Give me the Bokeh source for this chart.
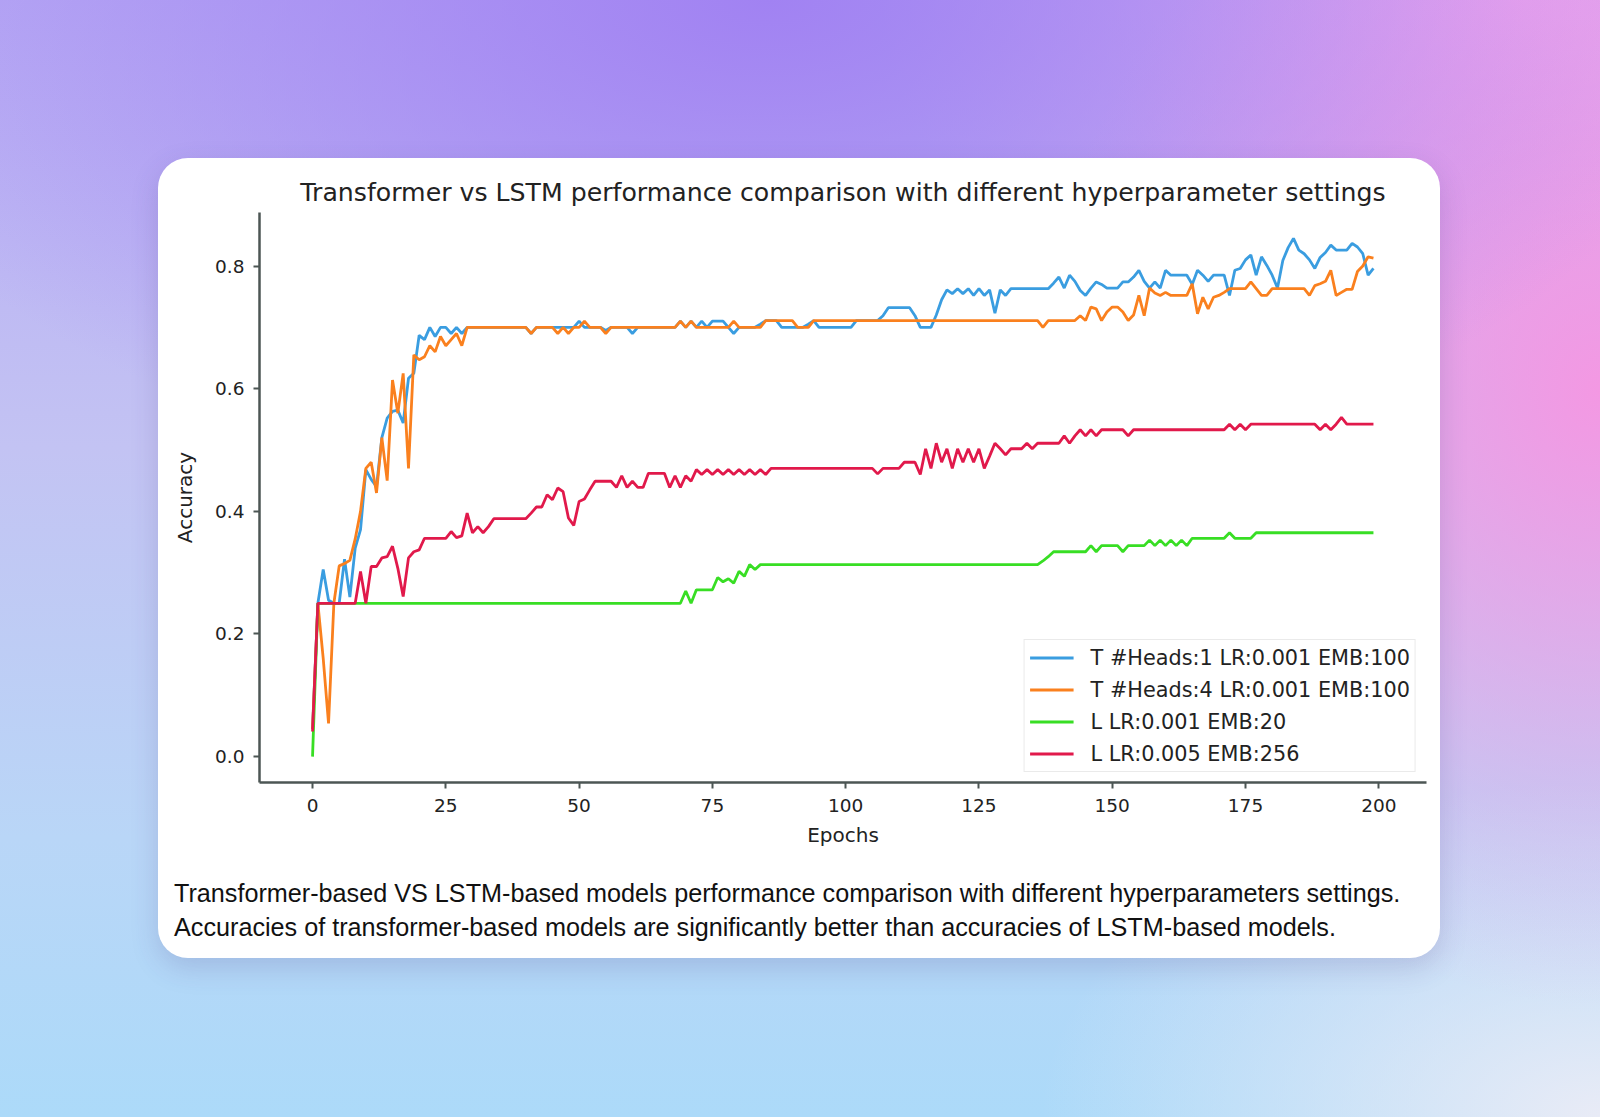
from bokeh.plotting import figure
from bokeh.models import (Range1d, Legend, LegendItem, FixedTicker, Div, Spacer,
                          Column, Row, PrintfTickFormatter, ColumnDataSource)
from bokeh.embed import file_html
from bokeh.resources import INLINE

TITLE = "Transformer vs LSTM performance comparison with different hyperparameter settings"
X_LABEL = "Epochs"
Y_LABEL = "Accuracy"
CAPTION_1 = "Transformer-based VS LSTM-based models performance comparison with different hyperparameters settings."
CAPTION_2 = "Accuracies of transformer-based models are significantly better than accuracies of LSTM-based models."

series_names = [
    "T #Heads:1 LR:0.001 EMB:100",
    "T #Heads:4 LR:0.001 EMB:100",
    "L LR:0.001 EMB:20",
    "L LR:0.005 EMB:256",
]

x_ticks = [0, 25, 50, 75, 100, 125, 150, 175, 200]
y_ticks = [0.0, 0.2, 0.4, 0.6, 0.8]

epochs = list(range(200))

t_heads1 = [
    0.045, 0.25, 0.305, 0.255, 0.25, 0.25, 0.322, 0.26, 0.34, 0.37,
    0.468, 0.452, 0.44, 0.52, 0.552, 0.563, 0.565, 0.544, 0.617, 0.625,
    0.687, 0.68, 0.70, 0.685, 0.70, 0.70, 0.69, 0.70, 0.69, 0.70,
    0.70, 0.70, 0.70, 0.70, 0.70, 0.70, 0.70, 0.70, 0.70, 0.70,
    0.70, 0.69, 0.70, 0.70, 0.70, 0.70, 0.70, 0.70, 0.70, 0.70,
    0.71, 0.70, 0.70, 0.70, 0.70, 0.695, 0.70, 0.70, 0.70, 0.70,
    0.69, 0.70, 0.70, 0.70, 0.70, 0.70, 0.70, 0.70, 0.70, 0.71,
    0.70, 0.71, 0.70, 0.71, 0.70, 0.71, 0.71, 0.71, 0.70, 0.69,
    0.70, 0.70, 0.70, 0.70, 0.705, 0.711, 0.711, 0.711, 0.70, 0.70,
    0.70, 0.70, 0.70, 0.705, 0.711, 0.70, 0.70, 0.70, 0.70, 0.70,
    0.70, 0.70, 0.711, 0.711, 0.711, 0.711, 0.711, 0.719, 0.732, 0.732,
    0.732, 0.732, 0.732, 0.719, 0.70, 0.70, 0.70, 0.72, 0.745, 0.761,
    0.755, 0.763, 0.755, 0.763, 0.752, 0.763, 0.752, 0.761, 0.723, 0.761,
    0.752, 0.763, 0.763, 0.763, 0.763, 0.763, 0.763, 0.763, 0.763, 0.772,
    0.782, 0.764, 0.785, 0.775, 0.76, 0.752, 0.764, 0.774, 0.77, 0.764,
    0.764, 0.764, 0.774, 0.774, 0.782, 0.793, 0.775, 0.764, 0.774, 0.764,
    0.793, 0.785, 0.785, 0.785, 0.785, 0.77, 0.793, 0.785, 0.775, 0.785,
    0.785, 0.785, 0.752, 0.793, 0.796, 0.81, 0.818, 0.785, 0.815, 0.801,
    0.785, 0.764, 0.809, 0.83, 0.845, 0.826, 0.82, 0.81, 0.796, 0.814,
    0.822, 0.834, 0.826, 0.826, 0.826, 0.837, 0.831, 0.82, 0.785, 0.796,
]

t_heads4 = [
    0.045, 0.25, 0.16, 0.054, 0.25, 0.311, 0.315, 0.32, 0.355, 0.40,
    0.47, 0.48, 0.43, 0.52, 0.45, 0.614, 0.56, 0.625, 0.47, 0.655,
    0.647, 0.652, 0.67, 0.66, 0.685, 0.67, 0.68, 0.69, 0.67, 0.70,
    0.70, 0.70, 0.70, 0.70, 0.70, 0.70, 0.70, 0.70, 0.70, 0.70,
    0.70, 0.69, 0.70, 0.70, 0.70, 0.70, 0.69, 0.70, 0.69, 0.70,
    0.70, 0.71, 0.70, 0.70, 0.70, 0.69, 0.70, 0.70, 0.70, 0.70,
    0.70, 0.70, 0.70, 0.70, 0.70, 0.70, 0.70, 0.70, 0.70, 0.71,
    0.70, 0.71, 0.70, 0.70, 0.70, 0.70, 0.70, 0.70, 0.70, 0.71,
    0.70, 0.70, 0.70, 0.70, 0.70, 0.711, 0.711, 0.711, 0.711, 0.711,
    0.711, 0.70, 0.70, 0.70, 0.711, 0.711, 0.711, 0.711, 0.711, 0.711,
    0.711, 0.711, 0.711, 0.711, 0.711, 0.711, 0.711, 0.711, 0.711, 0.711,
    0.711, 0.711, 0.711, 0.711, 0.711, 0.711, 0.711, 0.711, 0.711, 0.711,
    0.711, 0.711, 0.711, 0.711, 0.711, 0.711, 0.711, 0.711, 0.711, 0.711,
    0.711, 0.711, 0.711, 0.711, 0.711, 0.711, 0.711, 0.70, 0.711, 0.711,
    0.711, 0.711, 0.711, 0.711, 0.719, 0.711, 0.733, 0.73, 0.711, 0.725,
    0.733, 0.733, 0.725, 0.711, 0.72, 0.752, 0.719, 0.764, 0.756, 0.752,
    0.757, 0.752, 0.752, 0.752, 0.752, 0.771, 0.722, 0.749, 0.73, 0.749,
    0.752, 0.757, 0.763, 0.763, 0.763, 0.763, 0.774, 0.763, 0.752, 0.752,
    0.763, 0.763, 0.763, 0.763, 0.763, 0.763, 0.763, 0.752, 0.768, 0.771,
    0.775, 0.793, 0.752, 0.757, 0.762, 0.762, 0.791, 0.80, 0.815, 0.813,
]

l_emb20 = [
    0.0, 0.25, 0.25, 0.25, 0.25, 0.25, 0.25, 0.25, 0.25, 0.25,
    0.25, 0.25, 0.25, 0.25, 0.25, 0.25, 0.25, 0.25, 0.25, 0.25,
    0.25, 0.25, 0.25, 0.25, 0.25, 0.25, 0.25, 0.25, 0.25, 0.25,
    0.25, 0.25, 0.25, 0.25, 0.25, 0.25, 0.25, 0.25, 0.25, 0.25,
    0.25, 0.25, 0.25, 0.25, 0.25, 0.25, 0.25, 0.25, 0.25, 0.25,
    0.25, 0.25, 0.25, 0.25, 0.25, 0.25, 0.25, 0.25, 0.25, 0.25,
    0.25, 0.25, 0.25, 0.25, 0.25, 0.25, 0.25, 0.25, 0.25, 0.25,
    0.27, 0.25, 0.272, 0.272, 0.272, 0.272, 0.292, 0.285, 0.29, 0.283,
    0.302, 0.294, 0.313, 0.305, 0.313, 0.313, 0.313, 0.313, 0.313, 0.313,
    0.313, 0.313, 0.313, 0.313, 0.313, 0.313, 0.313, 0.313, 0.313, 0.313,
    0.313, 0.313, 0.313, 0.313, 0.313, 0.313, 0.313, 0.313, 0.313, 0.313,
    0.313, 0.313, 0.313, 0.313, 0.313, 0.313, 0.313, 0.313, 0.313, 0.313,
    0.313, 0.313, 0.313, 0.313, 0.313, 0.313, 0.313, 0.313, 0.313, 0.313,
    0.313, 0.313, 0.313, 0.313, 0.313, 0.313, 0.313, 0.319, 0.326, 0.334,
    0.334, 0.334, 0.334, 0.334, 0.334, 0.334, 0.344, 0.334, 0.344, 0.344,
    0.344, 0.344, 0.334, 0.344, 0.344, 0.344, 0.344, 0.353, 0.344, 0.353,
    0.344, 0.353, 0.344, 0.353, 0.344, 0.356, 0.356, 0.356, 0.356, 0.356,
    0.356, 0.356, 0.365, 0.356, 0.356, 0.356, 0.356, 0.365, 0.365, 0.365,
    0.365, 0.365, 0.365, 0.365, 0.365, 0.365, 0.365, 0.365, 0.365, 0.365,
    0.365, 0.365, 0.365, 0.365, 0.365, 0.365, 0.365, 0.365, 0.365, 0.365,
]

l_emb256 = [
    0.041, 0.25, 0.25, 0.25, 0.25, 0.25, 0.25, 0.25, 0.25, 0.302,
    0.25, 0.31, 0.31, 0.324, 0.326, 0.343, 0.307, 0.261, 0.324, 0.334,
    0.337, 0.356, 0.356, 0.356, 0.356, 0.356, 0.367, 0.357, 0.36, 0.397,
    0.365, 0.375, 0.365, 0.375, 0.388, 0.388, 0.388, 0.388, 0.388, 0.388,
    0.388, 0.397, 0.407, 0.407, 0.427, 0.419, 0.438, 0.432, 0.389, 0.377,
    0.416, 0.42, 0.435, 0.449, 0.449, 0.449, 0.449, 0.439, 0.458, 0.439,
    0.449, 0.439, 0.439, 0.462, 0.462, 0.462, 0.462, 0.439, 0.458, 0.439,
    0.458, 0.449, 0.468, 0.46, 0.468, 0.46, 0.468, 0.46, 0.468, 0.46,
    0.468, 0.46, 0.468, 0.46, 0.468, 0.46, 0.47, 0.47, 0.47, 0.47,
    0.47, 0.47, 0.47, 0.47, 0.47, 0.47, 0.47, 0.47, 0.47, 0.47,
    0.47, 0.47, 0.47, 0.47, 0.47, 0.47, 0.461, 0.47, 0.47, 0.47,
    0.47, 0.48, 0.48, 0.48, 0.46, 0.502, 0.47, 0.511, 0.48, 0.502,
    0.47, 0.502, 0.48, 0.502, 0.48, 0.502, 0.47, 0.49, 0.511, 0.502,
    0.492, 0.502, 0.502, 0.502, 0.511, 0.502, 0.511, 0.511, 0.511, 0.511,
    0.511, 0.523, 0.511, 0.523, 0.533, 0.523, 0.533, 0.523, 0.533, 0.533,
    0.533, 0.533, 0.533, 0.523, 0.533, 0.533, 0.533, 0.533, 0.533, 0.533,
    0.533, 0.533, 0.533, 0.533, 0.533, 0.533, 0.533, 0.533, 0.533, 0.533,
    0.533, 0.533, 0.542, 0.533, 0.542, 0.533, 0.542, 0.542, 0.542, 0.542,
    0.542, 0.542, 0.542, 0.542, 0.542, 0.542, 0.542, 0.542, 0.542, 0.533,
    0.542, 0.533, 0.542, 0.553, 0.542, 0.542, 0.542, 0.542, 0.542, 0.542,
]

series_values = [t_heads1, t_heads4, l_emb20, l_emb256]
series_colors = ["#3a9de0", "#fa801e", "#38de24", "#e1194b"]

TEXT_FONT = "DejaVu Sans"
AXIS_COLOR = "#4c5654"
TEXT_COLOR = "#222222"

p = figure(
    width=1282, height=700,
    x_range=Range1d(-9.95, 208.95),
    y_range=Range1d(-0.04225, 0.88725),
    output_backend="svg", toolbar_location=None,
    title=TITLE,
    min_border_left=101, min_border_right=14,
    min_border_top=54, min_border_bottom=76,
)
p.border_fill_color = None
p.background_fill_color = "white"
p.outline_line_color = None
p.grid.grid_line_color = None

p.title.text_font = TEXT_FONT
p.title.text_font_size = "25.2px"
p.title.text_font_style = "normal"
p.title.text_color = TEXT_COLOR
p.title.align = "center"
p.title.standoff = 12

for ax in (p.xaxis[0], p.yaxis[0]):
    ax.axis_line_color = AXIS_COLOR
    ax.axis_line_width = 2.5
    ax.major_tick_line_color = AXIS_COLOR
    ax.major_tick_line_width = 2
    ax.major_tick_out = 6
    ax.major_tick_in = 0
    ax.minor_tick_line_color = None
    ax.major_label_text_font = TEXT_FONT
    ax.major_label_text_font_size = "18.5px"
    ax.major_label_text_color = TEXT_COLOR
    ax.axis_label_text_font = TEXT_FONT
    ax.axis_label_text_font_size = "20px"
    ax.axis_label_text_font_style = "normal"
    ax.axis_label_text_color = TEXT_COLOR

p.xaxis.ticker = FixedTicker(ticks=x_ticks)
p.yaxis.ticker = FixedTicker(ticks=y_ticks)
p.yaxis.formatter = PrintfTickFormatter(format="%.1f")
p.xaxis.axis_label = X_LABEL
p.yaxis.axis_label = Y_LABEL
p.xaxis.major_label_standoff = 10
p.yaxis.major_label_standoff = 9
p.xaxis.axis_label_standoff = 8
p.yaxis.axis_label_standoff = 15

items = []
for name, vals, col in zip(series_names, series_values, series_colors):
    src = ColumnDataSource(dict(x=epochs, y=vals))
    r = p.line("x", "y", source=src, line_color=col, line_width=2.8)
    items.append(LegendItem(label=name, renderers=[r]))

legend = Legend(items=items, location="bottom_right")
legend.margin = 10
legend.padding = 5
legend.spacing = 7
legend.glyph_width = 44
legend.glyph_height = 25
legend.label_height = 25
legend.label_standoff = 17
legend.label_text_font = TEXT_FONT
legend.label_text_font_size = "20.8px"
legend.label_text_color = TEXT_COLOR
legend.border_line_color = "#d6d6d6"
legend.border_line_width = 1.5
legend.background_fill_color = "white"
legend.background_fill_alpha = 0.85
p.add_layout(legend)

caption = Div(
    text=('<div style="font-family: \'Liberation Sans\', Arial, sans-serif; font-size: 25.2px; '
          'line-height: 33.6px; color: #111; padding: 14px 0 0 11px; white-space: nowrap;">'
          + CAPTION_1 + '<br>' + CAPTION_2 + '</div>'),
    width=1282, height=100,
)

card = Column(
    p, caption, width=1282, height=800,
    styles={
        "background-color": "white",
        "border-radius": "30px",
        "box-shadow": "0 10px 28px rgba(70, 50, 130, 0.18)",
    },
)

BG = ("radial-gradient(ellipse 60% 45% at 48% 0%, rgba(160,128,242,0.95) 0%, rgba(160,128,242,0) 100%), "
      "radial-gradient(ellipse 35% 55% at 100% 35%, rgba(246,150,226,0.95) 0%, rgba(246,150,226,0) 100%), "
      "radial-gradient(ellipse 40% 35% at 95% 0%, rgba(238,172,240,1) 0%, rgba(238,172,240,0) 100%), "
      "radial-gradient(ellipse 35% 30% at 100% 100%, rgba(236,236,246,0.95) 0%, rgba(236,236,246,0) 100%), "
      "linear-gradient(180deg, #b6a9f4 0%, #c3c3f3 40%, #b9d6f7 75%, #acdaf9 100%)")

root = Column(
    Spacer(width=1600, height=158),
    Row(Spacer(width=158, height=800), card, width=1600, height=800),
    Spacer(width=1600, height=159),
    width=1600, height=1117,
    styles={"background": BG},
)

open("out.html", "w").write(file_html(root, INLINE))
